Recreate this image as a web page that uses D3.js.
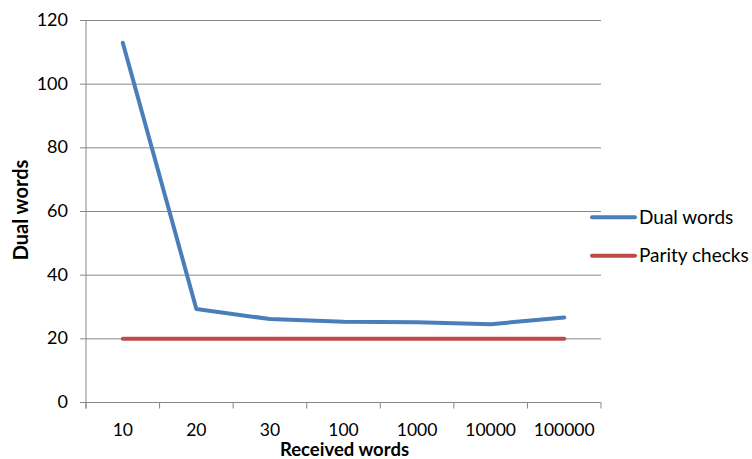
<!DOCTYPE html>
<html>
<head>
<meta charset="utf-8">
<script src="https://cdnjs.cloudflare.com/ajax/libs/d3/7.8.5/d3.min.js"></script>
<style>
  body { margin: 0; background: #fff; }
  text { font-family: Lato, "Open Sans", sans-serif; fill: #000; }
</style>
</head>
<body>
<svg width="752" height="459"></svg>
<script>
// data
var categories = ["10", "20", "30", "100", "1000", "10000", "100000"];
var dualWords = [113, 29.4, 26.2, 25.4, 25.2, 24.6, 26.7];
var parityChecks = [20, 20, 20, 20, 20, 20, 20];
var yTicks = [0, 20, 40, 60, 80, 100, 120];
var seriesNames = ["Dual words", "Parity checks"];
var seriesColors = ["#4a7ebb", "#be4b48"];

var svg = d3.select("svg"),
    margin = {top: 20.5, right: 151, bottom: 56.5, left: 86},
    width = +svg.attr("width") - margin.left - margin.right,
    height = +svg.attr("height") - margin.top - margin.bottom;

var x = d3.scaleBand().domain(categories).range([0, width]),
    y = d3.scaleLinear().domain([0, 120]).range([height, 0]);

var g = svg.append("g")
    .attr("transform", "translate(" + margin.left + "," + margin.top + ")");

// gridlines
g.selectAll(".grid")
  .data(yTicks)
  .enter().append("line")
    .attr("x1", -6).attr("x2", width)
    .attr("y1", function(d) { return y(d); })
    .attr("y2", function(d) { return y(d); })
    .attr("stroke", "#878787").attr("stroke-width", 1);

// y labels
g.selectAll(".ylab")
  .data(yTicks)
  .enter().append("text")
    .attr("x", -18)
    .attr("y", function(d) { return y(d); })
    .attr("dy", "0.3em")
    .attr("text-anchor", "end")
    .style("font-size", "18px")
    .text(function(d) { return d; });

// y axis line
g.append("line")
  .attr("x1", 0).attr("x2", 0).attr("y1", 0).attr("y2", height + 6)
  .attr("stroke", "#878787");

// x tick marks at band edges
var edges = categories.map(function(c) { return x(c); }).concat([width]);
g.selectAll(".xtick")
  .data(edges)
  .enter().append("line")
    .attr("x1", function(d) { return d; }).attr("x2", function(d) { return d; })
    .attr("y1", height).attr("y2", height + 6)
    .attr("stroke", "#878787");

// x labels
g.selectAll(".xlab")
  .data(categories)
  .enter().append("text")
    .attr("x", function(d) { return x(d) + x.bandwidth() / 2; })
    .attr("y", height + 33)
    .attr("text-anchor", "middle")
    .style("font-size", "17.5px")
    .text(function(d) { return d; });

// axis titles
svg.append("text")
  .attr("x", margin.left + width / 2 + 1)
  .attr("y", 456)
  .attr("text-anchor", "middle")
  .style("font-size", "18.5px").style("font-weight", "bold")
  .text("Received words");

svg.append("text")
  .attr("transform", "translate(28," + 210 + ") rotate(-90)")
  .attr("text-anchor", "middle")
  .style("font-size", "20px").style("font-weight", "bold")
  .text("Dual words");

// lines
var line = d3.line()
  .x(function(d, i) { return x(categories[i]) + x.bandwidth() / 2; })
  .y(function(d) { return y(d); });

[dualWords, parityChecks].forEach(function(s, i) {
  g.append("path")
    .datum(s)
    .attr("d", line)
    .attr("fill", "none")
    .attr("stroke", seriesColors[i])
    .attr("stroke-width", 4)
    .attr("stroke-linejoin", "round")
    .attr("stroke-linecap", "round");
});

// legend
var legend = svg.selectAll(".legend")
  .data(seriesNames)
  .enter().append("g")
    .attr("transform", function(d, i) { return "translate(592," + (217.3 + i * 38.4) + ")"; });

legend.append("line")
  .attr("x1", 0).attr("x2", 43)
  .attr("stroke", function(d, i) { return seriesColors[i]; })
  .attr("stroke-width", 4)
  .attr("stroke-linecap", "round");

legend.append("text")
  .attr("x", 47)
  .attr("dy", "0.35em")
  .style("font-size", "19px")
  .text(function(d) { return d; });
</script>
</body>
</html>
